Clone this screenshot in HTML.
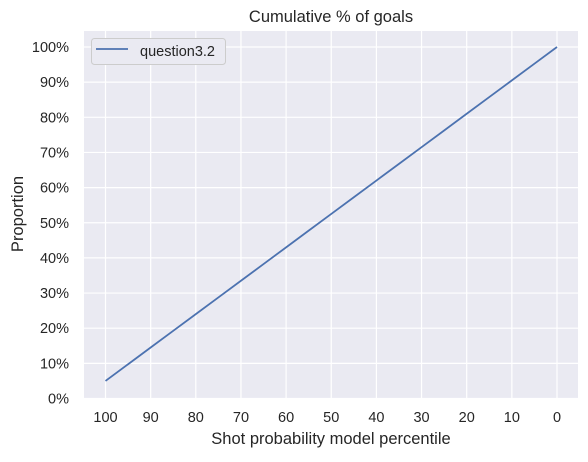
<!DOCTYPE html>
<html><head><meta charset="utf-8"><style>
body{margin:0;background:#fff;}
text{font-family:"Liberation Sans",sans-serif;fill:#262626;}
</style></head><body>
<svg width="588" height="457">
<rect x="84" y="31" width="494" height="367" fill="#eaeaf2"/>
<g id="grid"></g>
<g id="ticks"></g>
<path id="line" fill="none" stroke="#4c72b0" stroke-width="1.8"/>
<text x="331" y="22" text-anchor="middle" font-size="16.5">Cumulative % of goals</text>
<text x="331" y="444" text-anchor="middle" font-size="16.5">Shot probability model percentile</text>
<text transform="translate(23,214) rotate(-90)" text-anchor="middle" font-size="16.5">Proportion</text>
<g>
<rect x="91.5" y="38.5" width="134" height="26" rx="3" fill="#eaeaf2" stroke="#cccccc"/>
<line x1="96" y1="49" x2="128" y2="49" stroke="#4c72b0" stroke-width="1.8"/>
<text x="140" y="56" font-size="14.5">question3.2</text>
</g>
</svg>
<script>
const xTicks=[100,90,80,70,60,50,40,30,20,10,0];
const yTicks=[0,10,20,30,40,50,60,70,80,90,100];
const xVals=[100,95,90,85,80,75,70,65,60,55,50,45,40,35,30,25,20,15,10,5,0];
const yVals=[5,9.75,14.5,19.25,24,28.75,33.5,38.25,43,47.75,52.5,57.25,62,66.75,71.5,76.25,81,85.75,90.5,95.25,100];
const X=v=>105.5+(100-v)*4.515;
const Y=v=>398.5-v*3.515;
const ns="http://www.w3.org/2000/svg";
const grid=document.getElementById('grid'),ticks=document.getElementById('ticks');
xTicks.forEach(t=>{
 const l=document.createElementNS(ns,'line');
 l.setAttribute('x1',X(t));l.setAttribute('x2',X(t));l.setAttribute('y1',31);l.setAttribute('y2',398);
 l.setAttribute('stroke','#fff');l.setAttribute('stroke-width','1.2');
 
 
 grid.appendChild(l);
 const tx=document.createElementNS(ns,'text');
 tx.setAttribute('x',X(t));tx.setAttribute('y',422);tx.setAttribute('text-anchor','middle');tx.setAttribute('font-size','14.5');
 tx.textContent=t;
 
 
 ticks.appendChild(tx);
});
yTicks.forEach(t=>{
 const l=document.createElementNS(ns,'line');
 l.setAttribute('y1',Y(t));l.setAttribute('y2',Y(t));l.setAttribute('x1',84);l.setAttribute('x2',578);
 l.setAttribute('stroke','#fff');l.setAttribute('stroke-width','1.2');
 
 
 grid.appendChild(l);
 const tx=document.createElementNS(ns,'text');
 tx.setAttribute('x',69);tx.setAttribute('y',Y(t)+5);tx.setAttribute('text-anchor','end');tx.setAttribute('font-size','14.5');
 tx.textContent=t+'%';
 
 
 ticks.appendChild(tx);
});
document.getElementById('line').setAttribute('d',xVals.map((x,i)=>(i?'L':'M')+X(x)+','+Y(yVals[i])).join(''));
</script>
</body></html>
